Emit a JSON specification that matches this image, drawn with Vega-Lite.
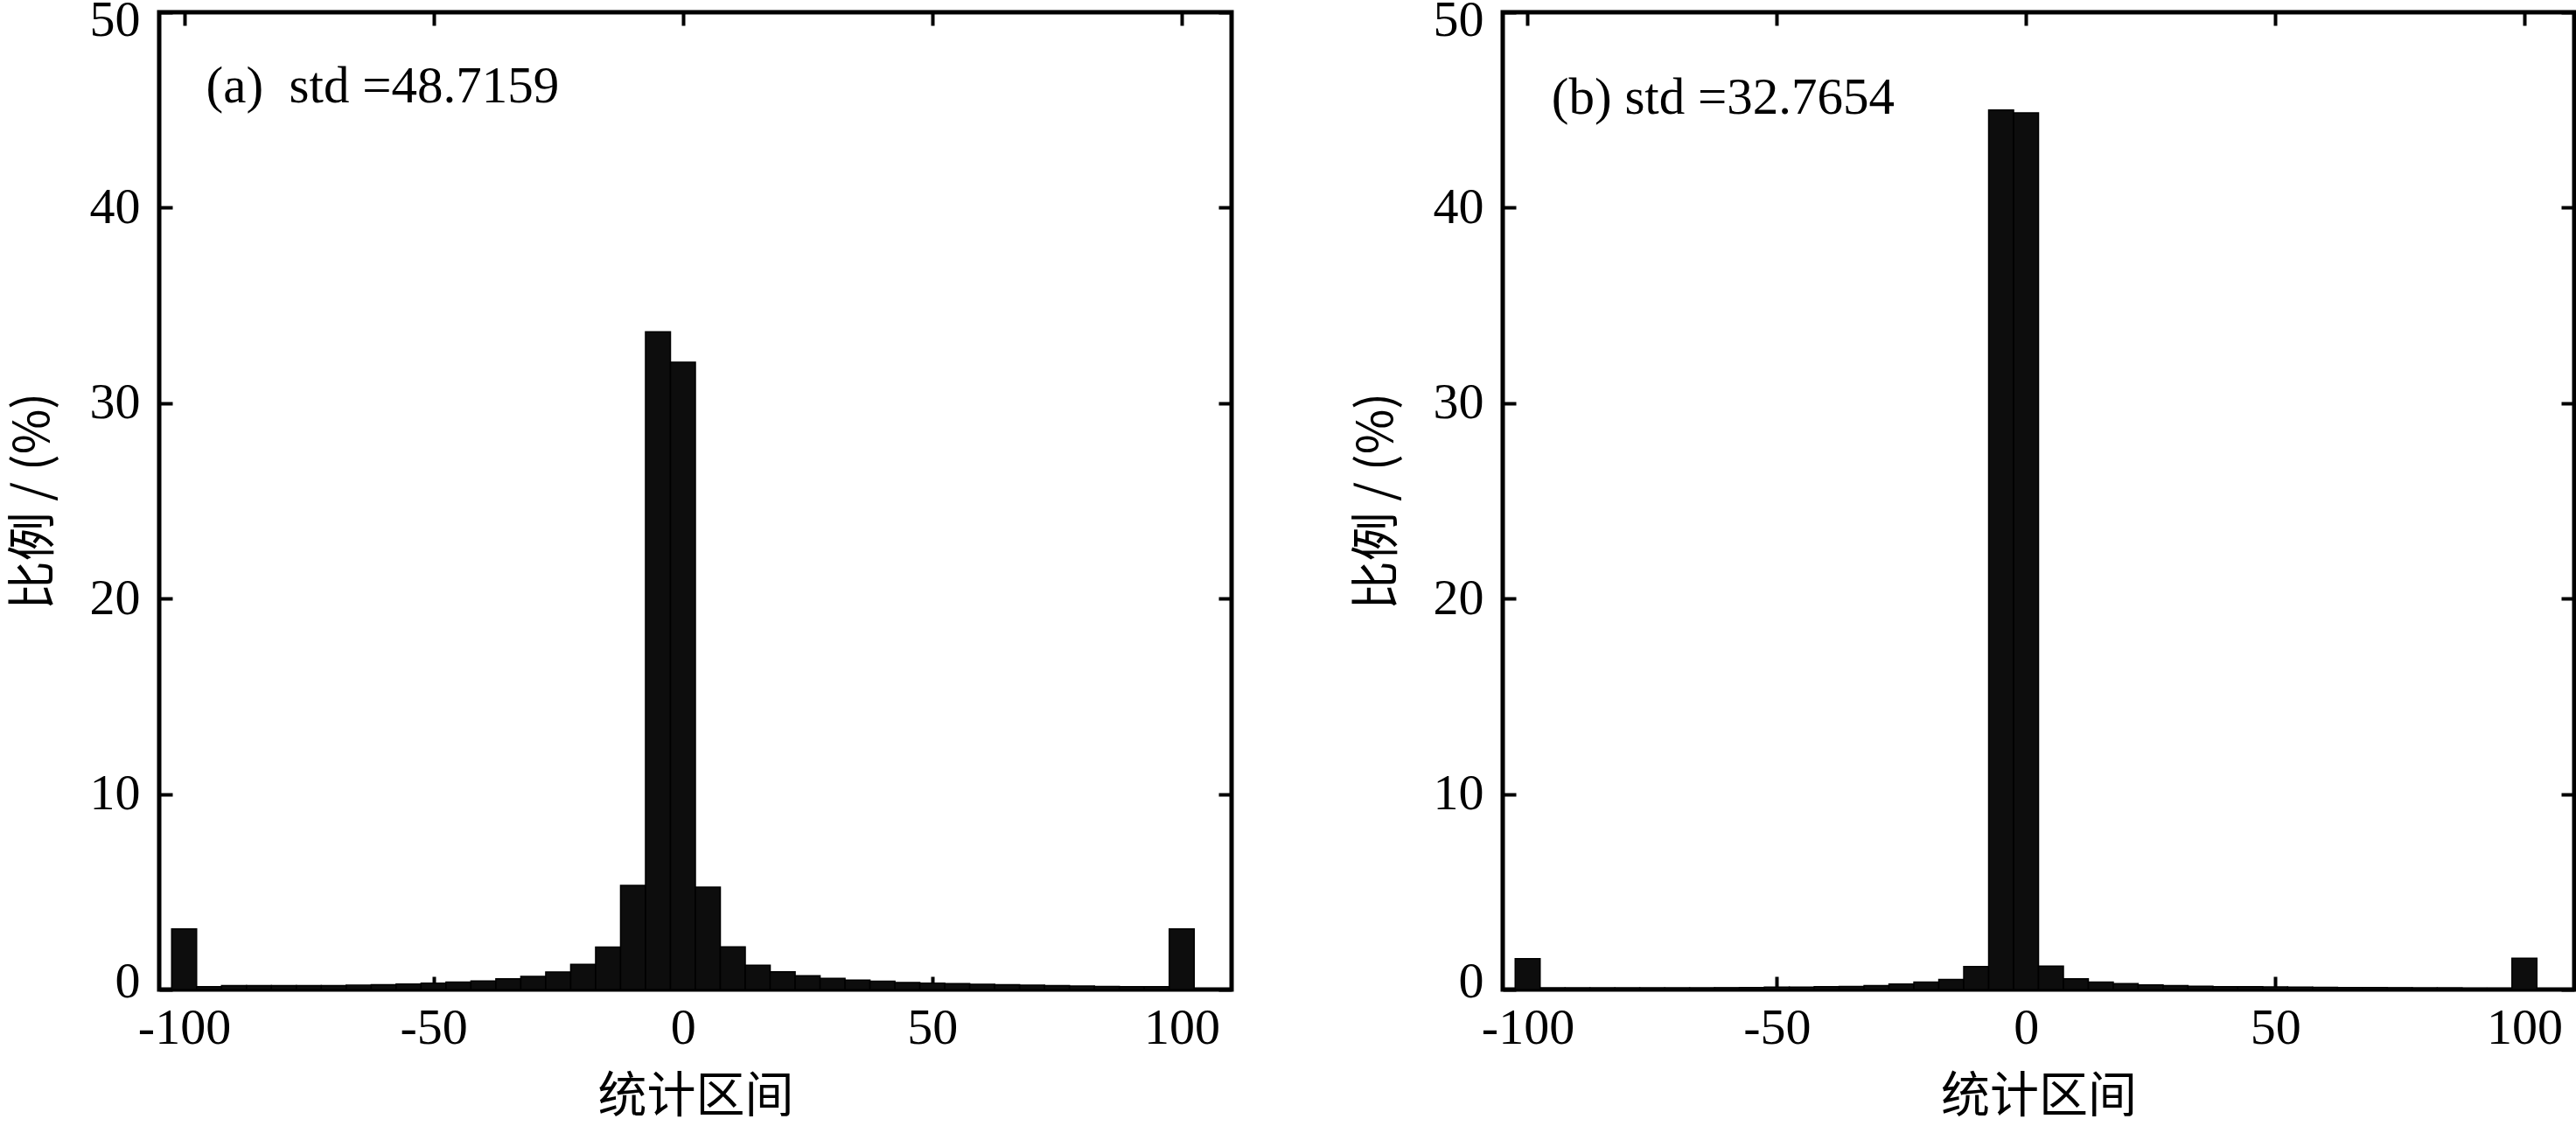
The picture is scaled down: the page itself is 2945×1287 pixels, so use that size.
{
  "$schema": "https://vega.github.io/schema/vega-lite/v6.json",
  "background": "#ffffff",
  "padding": {"left": 7, "top": -9, "right": 0, "bottom": 0},
  "spacing": 130,
  "config": {
    "view": {"stroke": "#000000", "strokeWidth": 5},
    "axis": {
      "grid": false,
      "domain": false,
      "tickColor": "#000000",
      "tickWidth": 4,
      "tickSize": -15,
      "labelFont": "Liberation Serif",
      "labelFontSize": 58,
      "labelColor": "#000000",
      "labelFlush": false,
      "labelOverlap": false,
      "labelExpr": "replace(datum.label, '−', '-')",
      "titleFont": "Noto Sans CJK SC",
      "titleFontSize": 56,
      "titleFontWeight": "normal",
      "titleColor": "#000000"
    }
  },
  "datasets": {
    "a": [
      {"lo": -102.5, "hi": -97.5, "pct": 3.1},
      {"lo": -97.5, "hi": -92.5, "pct": 0.15},
      {"lo": -92.5, "hi": -87.5, "pct": 0.2},
      {"lo": -87.5, "hi": -82.5, "pct": 0.2},
      {"lo": -82.5, "hi": -77.5, "pct": 0.2},
      {"lo": -77.5, "hi": -72.5, "pct": 0.2},
      {"lo": -72.5, "hi": -67.5, "pct": 0.2},
      {"lo": -67.5, "hi": -62.5, "pct": 0.22},
      {"lo": -62.5, "hi": -57.5, "pct": 0.25},
      {"lo": -57.5, "hi": -52.5, "pct": 0.28},
      {"lo": -52.5, "hi": -47.5, "pct": 0.33},
      {"lo": -47.5, "hi": -42.5, "pct": 0.38},
      {"lo": -42.5, "hi": -37.5, "pct": 0.44},
      {"lo": -37.5, "hi": -32.5, "pct": 0.55},
      {"lo": -32.5, "hi": -27.5, "pct": 0.67},
      {"lo": -27.5, "hi": -22.5, "pct": 0.9},
      {"lo": -22.5, "hi": -17.5, "pct": 1.29},
      {"lo": -17.5, "hi": -12.5, "pct": 2.17},
      {"lo": -12.5, "hi": -7.5, "pct": 5.33},
      {"lo": -7.5, "hi": -2.5, "pct": 33.65},
      {"lo": -2.5, "hi": 2.5, "pct": 32.1},
      {"lo": 2.5, "hi": 7.5, "pct": 5.24},
      {"lo": 7.5, "hi": 12.5, "pct": 2.18},
      {"lo": 12.5, "hi": 17.5, "pct": 1.24},
      {"lo": 17.5, "hi": 22.5, "pct": 0.91},
      {"lo": 22.5, "hi": 27.5, "pct": 0.7},
      {"lo": 27.5, "hi": 32.5, "pct": 0.57},
      {"lo": 32.5, "hi": 37.5, "pct": 0.48},
      {"lo": 37.5, "hi": 42.5, "pct": 0.42},
      {"lo": 42.5, "hi": 47.5, "pct": 0.36},
      {"lo": 47.5, "hi": 52.5, "pct": 0.33},
      {"lo": 52.5, "hi": 57.5, "pct": 0.3},
      {"lo": 57.5, "hi": 62.5, "pct": 0.27},
      {"lo": 62.5, "hi": 67.5, "pct": 0.25},
      {"lo": 67.5, "hi": 72.5, "pct": 0.22},
      {"lo": 72.5, "hi": 77.5, "pct": 0.2},
      {"lo": 77.5, "hi": 82.5, "pct": 0.18},
      {"lo": 82.5, "hi": 87.5, "pct": 0.16},
      {"lo": 87.5, "hi": 92.5, "pct": 0.15},
      {"lo": 92.5, "hi": 97.5, "pct": 0.15},
      {"lo": 97.5, "hi": 102.5, "pct": 3.1}
    ],
    "b": [
      {"lo": -102.5, "hi": -97.5, "pct": 1.58},
      {"lo": -97.5, "hi": -92.5, "pct": 0.08},
      {"lo": -92.5, "hi": -87.5, "pct": 0.08},
      {"lo": -87.5, "hi": -82.5, "pct": 0.08},
      {"lo": -82.5, "hi": -77.5, "pct": 0.08},
      {"lo": -77.5, "hi": -72.5, "pct": 0.08},
      {"lo": -72.5, "hi": -67.5, "pct": 0.08},
      {"lo": -67.5, "hi": -62.5, "pct": 0.08},
      {"lo": -62.5, "hi": -57.5, "pct": 0.09},
      {"lo": -57.5, "hi": -52.5, "pct": 0.1},
      {"lo": -52.5, "hi": -47.5, "pct": 0.12},
      {"lo": -47.5, "hi": -42.5, "pct": 0.12},
      {"lo": -42.5, "hi": -37.5, "pct": 0.14},
      {"lo": -37.5, "hi": -32.5, "pct": 0.16},
      {"lo": -32.5, "hi": -27.5, "pct": 0.2},
      {"lo": -27.5, "hi": -22.5, "pct": 0.28},
      {"lo": -22.5, "hi": -17.5, "pct": 0.38},
      {"lo": -17.5, "hi": -12.5, "pct": 0.52},
      {"lo": -12.5, "hi": -7.5, "pct": 1.18},
      {"lo": -7.5, "hi": -2.5, "pct": 45.0},
      {"lo": -2.5, "hi": 2.5, "pct": 44.85},
      {"lo": 2.5, "hi": 7.5, "pct": 1.2},
      {"lo": 7.5, "hi": 12.5, "pct": 0.55},
      {"lo": 12.5, "hi": 17.5, "pct": 0.38},
      {"lo": 17.5, "hi": 22.5, "pct": 0.3},
      {"lo": 22.5, "hi": 27.5, "pct": 0.24},
      {"lo": 27.5, "hi": 32.5, "pct": 0.2},
      {"lo": 32.5, "hi": 37.5, "pct": 0.17},
      {"lo": 37.5, "hi": 42.5, "pct": 0.15},
      {"lo": 42.5, "hi": 47.5, "pct": 0.14},
      {"lo": 47.5, "hi": 52.5, "pct": 0.13},
      {"lo": 52.5, "hi": 57.5, "pct": 0.12},
      {"lo": 57.5, "hi": 62.5, "pct": 0.11},
      {"lo": 62.5, "hi": 67.5, "pct": 0.1},
      {"lo": 67.5, "hi": 72.5, "pct": 0.1},
      {"lo": 72.5, "hi": 77.5, "pct": 0.09},
      {"lo": 77.5, "hi": 82.5, "pct": 0.08},
      {"lo": 82.5, "hi": 87.5, "pct": 0.08},
      {"lo": 87.5, "hi": 92.5, "pct": 0.06},
      {"lo": 92.5, "hi": 97.5, "pct": 0.06},
      {"lo": 97.5, "hi": 102.5, "pct": 1.6}
    ],
    "notea": [{"tx": -95.6, "ty": 45.4, "label": "(a)\u00a0 std =48.7159"}],
    "noteb": [{"tx": -95.2, "ty": 44.8, "label": "(b) std =32.7654"}]
  },
  "hconcat": [
    {
      "width": 1226,
      "height": 1117,
      "layer": [
        {
          "data": {"name": "a"},
          "mark": {"type": "rect", "fill": "#0d0d0d", "stroke": "#000000", "strokeWidth": 1.5},
          "encoding": {
            "x": {"field": "lo", "type": "quantitative",
                  "scale": {"domain": [-105, 110], "nice": false, "zero": false},
                  "axis": {"orient": "bottom", "values": [-100, -50, 0, 50, 100], "labelPadding": 30, "minExtent": 72, "maxExtent": 72, "titlePadding": 23, "title": "统计区间"}},
            "x2": {"field": "hi"},
            "y": {"field": "pct", "type": "quantitative",
                  "scale": {"domain": [0, 50], "nice": false, "zero": true},
                  "axis": {"orient": "left", "values": [0, 10, 20, 30, 40, 50], "labelPadding": 37, "labelFlush": true, "labelFlushOffset": 20, "minExtent": 82, "maxExtent": 82, "titlePadding": 33, "title": "比例 / (%)"}},
            "y2": {"datum": 0}
          }
        },
        {
          "data": {"name": "notea"},
          "mark": {"type": "text", "align": "left", "baseline": "alphabetic", "font": "Liberation Serif", "fontSize": 59, "color": "#000000"},
          "encoding": {
            "x": {"field": "tx", "type": "quantitative", "scale": {"domain": [-105, 110], "nice": false, "zero": false},
                  "axis": {"orient": "top", "values": [-100, -50, 0, 50, 100], "labels": false, "title": null, "minExtent": 0, "maxExtent": 0}},
            "y": {"field": "ty", "type": "quantitative", "scale": {"domain": [0, 50], "nice": false},
                  "axis": {"orient": "right", "values": [0, 10, 20, 30, 40, 50], "labels": false, "title": null, "minExtent": 0, "maxExtent": 0}},
            "text": {"field": "label"}
          }
        }
      ],
      "resolve": {"axis": {"x": "independent", "y": "independent"}}
    },
    {
      "width": 1225,
      "height": 1117,
      "layer": [
        {
          "data": {"name": "b"},
          "mark": {"type": "rect", "fill": "#0d0d0d", "stroke": "#000000", "strokeWidth": 1.5},
          "encoding": {
            "x": {"field": "lo", "type": "quantitative",
                  "scale": {"domain": [-105, 110], "nice": false, "zero": false},
                  "axis": {"orient": "bottom", "values": [-100, -50, 0, 50, 100], "labelPadding": 30, "minExtent": 72, "maxExtent": 72, "titlePadding": 23, "title": "统计区间"}},
            "x2": {"field": "hi"},
            "y": {"field": "pct", "type": "quantitative",
                  "scale": {"domain": [0, 50], "nice": false, "zero": true},
                  "axis": {"orient": "left", "values": [0, 10, 20, 30, 40, 50], "labelPadding": 37, "labelFlush": true, "labelFlushOffset": 20, "minExtent": 82, "maxExtent": 82, "titlePadding": 33, "title": "比例 / (%)"}},
            "y2": {"datum": 0}
          }
        },
        {
          "data": {"name": "noteb"},
          "mark": {"type": "text", "align": "left", "baseline": "alphabetic", "font": "Liberation Serif", "fontSize": 59, "color": "#000000"},
          "encoding": {
            "x": {"field": "tx", "type": "quantitative", "scale": {"domain": [-105, 110], "nice": false, "zero": false},
                  "axis": {"orient": "top", "values": [-100, -50, 0, 50, 100], "labels": false, "title": null, "minExtent": 0, "maxExtent": 0}},
            "y": {"field": "ty", "type": "quantitative", "scale": {"domain": [0, 50], "nice": false},
                  "axis": {"orient": "right", "values": [0, 10, 20, 30, 40, 50], "labels": false, "title": null, "minExtent": 0, "maxExtent": 0}},
            "text": {"field": "label"}
          }
        }
      ],
      "resolve": {"axis": {"x": "independent", "y": "independent"}}
    }
  ]
}
